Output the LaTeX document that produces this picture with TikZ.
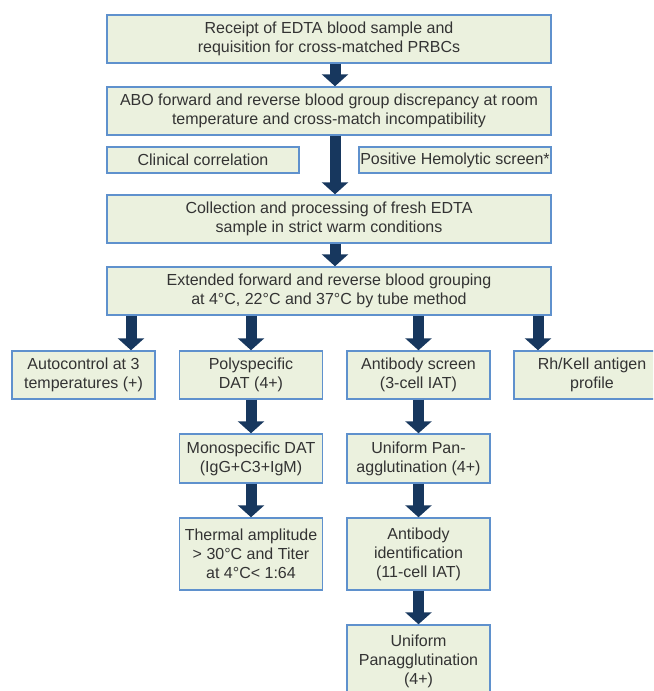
\documentclass[tikz,border=0pt]{standalone}
\usepackage{fontspec}
\setmainfont{Liberation Sans}
\usetikzlibrary{arrows.meta}
\definecolor{boxfill}{RGB}{235,241,222}
\definecolor{boxline}{RGB}{95,145,205}
\definecolor{arrowblue}{RGB}{23,55,94}
\begin{document}
\begin{tikzpicture}[x=0.75pt, y=-0.75pt,
    boxstyle/.style={rectangle, draw=boxline, fill=boxfill, line width=1.1pt, align=center, text=black!80, inner sep=0pt, minimum width=333pt, minimum height=36pt, font=\fontsize{12}{14.25}\selectfont},
    smallbox/.style={boxstyle, minimum width=107.25pt},
    arrowstyle/.style={draw=arrowblue, line width=8.25pt, -{Triangle[width=19.5pt, length=9pt]}}
]
    \clip (0,0) rectangle (653,691);

    \node[boxstyle] (receipt) at (329,39) {Receipt of EDTA blood sample and\\requisition for cross-matched PRBCs};
    \node[boxstyle] (abo) at (329,111) {ABO forward and reverse blood group discrepancy at room\\temperature and cross-match incompatibility};
    \node[boxstyle, minimum width=144pt, minimum height=19.5pt] (clinical) at (203,160) {Clinical correlation};
    \node[boxstyle, minimum width=144pt, minimum height=19.5pt] (hemolytic) at (455,160) {Positive Hemolytic screen*};
    \node[boxstyle] (fresh) at (329,219) {Collection and processing of fresh EDTA\\sample in strict warm conditions};
    \node[boxstyle] (extended) at (329,291) {Extended forward and reverse blood grouping\\at 4°C, 22°C and 37°C by tube method};

    \node[smallbox] (autoctrl) at (83.5,375) {Autocontrol at 3\\temperatures (+)};
    \node[smallbox] (polydat) at (251,375) {Polyspecific\\DAT (4+)};
    \node[smallbox] (abscreen) at (418.5,375) {Antibody screen\\(3-cell IAT)};
    \node[smallbox, minimum width=117pt] (rhkell) at (592,375) {Rh/Kell antigen\\profile};

    \node[smallbox, minimum height=36.75pt] (monodat) at (251,458.5) {Monospecific DAT\\(IgG+C3+IgM)};
    \node[smallbox, minimum height=36.75pt] (panone) at (418.5,458.5) {Uniform Pan-\\agglutination (4+)};
    \node[smallbox, minimum height=54pt] (thermal) at (251,554) {Thermal amplitude\\> 30°C and Titer\\at 4°C< 1:64};
    \node[smallbox, minimum height=54pt] (abident) at (418.5,554) {Antibody\\identification\\(11-cell IAT)};
    \node[smallbox, minimum height=54pt] (pantwo) at (418.5,661) {Uniform\\Panagglutination\\(4+)};

    \coordinate (mainline) at (335,0);
    \coordinate (leftline) at (131,0);
    \coordinate (rightline) at (538,0);

    \draw[arrowstyle] (receipt.south -| mainline) -- (abo.north -| mainline);
    \draw[arrowstyle] (abo.south -| mainline) -- (fresh.north -| mainline);
    \draw[arrowstyle] (fresh.south -| mainline) -- (extended.north -| mainline);
    \draw[arrowstyle] (extended.south -| leftline) -- (autoctrl.north -| leftline);
    \draw[arrowstyle] (extended.south -| polydat) -- (polydat.north);
    \draw[arrowstyle] (extended.south -| abscreen) -- (abscreen.north);
    \draw[arrowstyle] (extended.south -| rightline) -- (rhkell.north -| rightline);
    \draw[arrowstyle] (polydat) -- (monodat);
    \draw[arrowstyle] (monodat) -- (thermal);
    \draw[arrowstyle] (abscreen) -- (panone);
    \draw[arrowstyle] (panone) -- (abident);
    \draw[arrowstyle] (abident) -- (pantwo);
\end{tikzpicture}
\end{document}
